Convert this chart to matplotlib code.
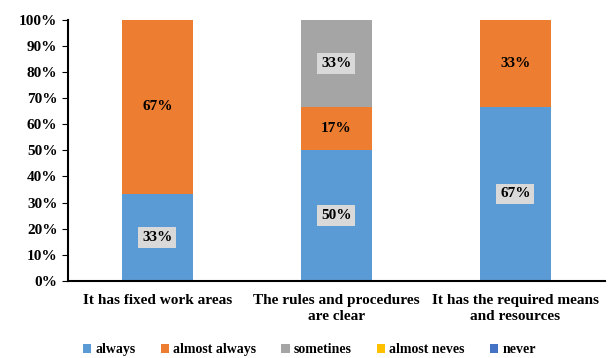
import numpy as np
import matplotlib.pyplot as plt

plt.rcParams['font.family'] = ['Liberation Serif', 'DejaVu Serif']
plt.rcParams['font.weight'] = 'bold'

categories = ['It has fixed work areas', 'The rules and procedures\nare clear',
              'It has the required means\nand resources']
series = ['always', 'almost always', 'sometines', 'almost neves', 'never']
always = [33.3, 50.0, 66.7]
almost_always = [66.7, 16.7, 33.3]
sometimes = [0, 33.3, 0]
almost_never = [0, 0, 0]
never = [0, 0, 0]
labels_always = ['33%', '50%', '67%']
labels_almost = ['67%', '17%', '33%']
labels_some = ['', '33%', '']

colors = ['#5b9bd5', '#ed7d31', '#a5a5a5', '#ffc000', '#4472c4']
values = [always, almost_always, sometimes, almost_never, never]

fig = plt.figure(figsize=(6.11, 3.58), dpi=100)
ax = fig.add_axes([0.111, 0.215, 0.879, 0.73])

x = np.arange(len(categories))
bottom = np.zeros(len(categories))
for name, vals, col in zip(series, values, colors):
    ax.bar(x, vals, 0.4, bottom=bottom, color=col, label=name)
    bottom += np.array(vals)

box = dict(boxstyle='square,pad=0.25', facecolor='#d9d9d9', edgecolor='none')
for i in range(len(categories)):
    ax.text(x[i], always[i] / 2, labels_always[i], ha='center', va='center',
            fontsize=11, bbox=box)
    ax.text(x[i], always[i] + almost_always[i] / 2, labels_almost[i],
            ha='center', va='center', fontsize=11)
    if labels_some[i]:
        ax.text(x[i], always[i] + almost_always[i] + sometimes[i] / 2,
                labels_some[i], ha='center', va='center', fontsize=11, bbox=box)

ax.set_xlim(-0.5, 2.5)
ax.set_ylim(0, 100)
ax.set_yticks(range(0, 101, 10))
ax.set_yticklabels([f'{v}%' for v in range(0, 101, 10)], fontsize=11)
ax.set_xticks(x)
ax.set_xticklabels(categories, fontsize=11, linespacing=1.35)
ax.tick_params(axis='x', length=0, pad=9)
ax.tick_params(axis='y', length=4, direction='out')
for s in ['top', 'right']:
    ax.spines[s].set_visible(False)
ax.spines['left'].set_linewidth(1.5)
ax.spines['bottom'].set_linewidth(1.5)

ax.legend(loc='lower center', bbox_to_anchor=(0.45, -0.335), ncol=5, frameon=False,
          fontsize=10, handlelength=0.6, handleheight=0.6, handletextpad=0.3,
          columnspacing=1.8)

fig.savefig('out.png', dpi=100)
